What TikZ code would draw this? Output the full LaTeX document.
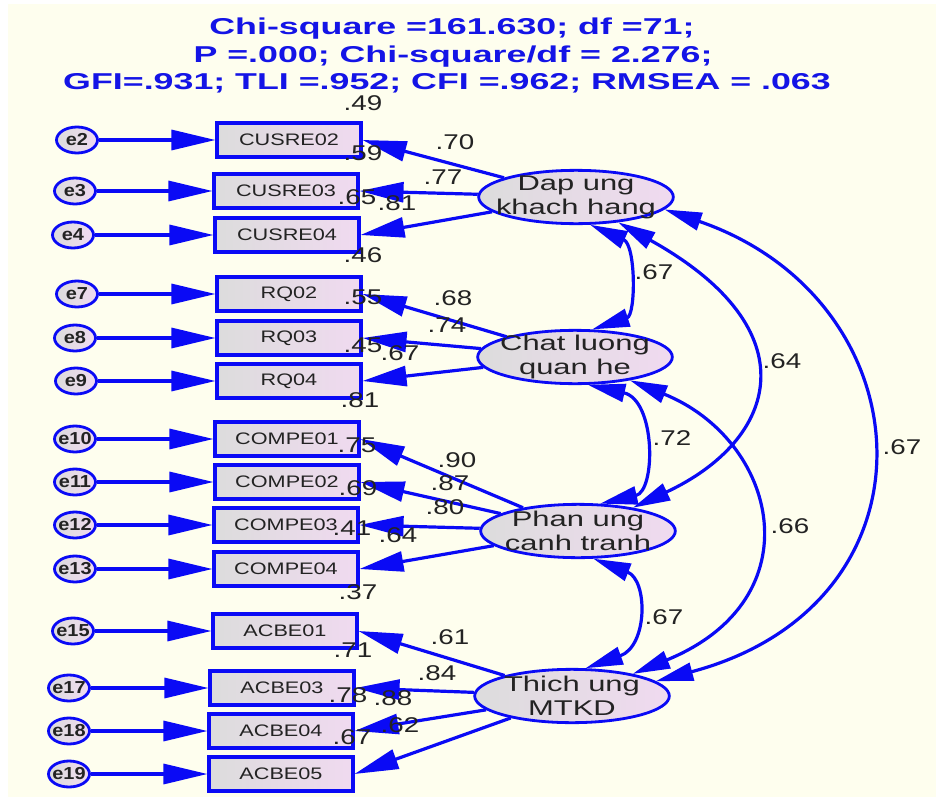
\documentclass[tikz,border=0pt]{standalone}
\usepackage{fontspec}
\setmainfont{Liberation Sans}
\newfontfamily\titlefont{Liberation Sans}[FakeStretch=1.56]
\newfontfamily\numfont{Liberation Sans}[FakeStretch=1.3]
\newfontfamily\latfont{Liberation Sans}[FakeStretch=1.45]
\newfontfamily\boxfont{Liberation Sans}[FakeStretch=1.3]
\newfontfamily\errfont{Liberation Sans}[FakeStretch=1.15]
\usetikzlibrary{arrows.meta,shapes.geometric}
\definecolor{amos}{RGB}{10,10,245}
\definecolor{cream}{RGB}{254,254,238}
\definecolor{lgray}{RGB}{220,220,220}
\definecolor{lpink}{RGB}{240,218,240}
\definecolor{txt}{RGB}{35,35,35}
\definecolor{ttl}{RGB}{20,20,230}
\tikzset{
  obs/.style={rectangle, draw=amos, line width=2.3pt, left color=lgray, right color=lpink,
    minimum width=108pt, minimum height=25.5pt, inner sep=0pt,
    font=\boxfont\fontsize{12.5pt}{14pt}\selectfont, text=txt},
  err/.style={ellipse, draw=amos, line width=2.1pt, left color=lgray, right color=lpink,
    minimum width=30.75pt, minimum height=19.5pt, inner sep=0pt},
  errtext/.style={inner sep=0pt, font=\errfont\bfseries\fontsize{13pt}{14pt}\selectfont, text=txt},
  lat/.style={ellipse, draw=amos, line width=2.1pt, left color=lgray, right color=lpink,
    minimum width=146pt, minimum height=40pt, inner sep=0pt},
  lattext/.style={inner sep=0pt, align=center, font=\latfont\fontsize{16pt}{18pt}\selectfont, text=txt},
  num/.style={inner sep=0pt, font=\numfont\fontsize{16pt}{18pt}\selectfont, text=txt},
  ttltext/.style={inner sep=0pt, anchor=base, font=\titlefont\bfseries\fontsize{17.2pt}{20pt}\selectfont, text=ttl},
  conn/.style={draw=amos, line width=2.4pt, -{Triangle[length=33pt,width=15pt]}},
  corr/.style={draw=amos, line width=2.4pt, {Triangle[length=28pt,width=13.5pt]}-{Triangle[length=28pt,width=13.5pt]}}
}
\begin{document}
\begin{tikzpicture}[x={(0.75pt,0)}, y={(0,-0.75pt)}]
\useasboundingbox (0,0) rectangle (936,803);
\fill[white] (0,0) rectangle (936,803);
\fill[cream] (8,4) rectangle (936,797);

% title
\node[ttltext] (t1) at (452,35) {Chi-square =161.630; df =71;};
\node[ttltext] (t2) at (453,62) {P =.000; Chi-square/df = 2.276;};
\node[ttltext] (t3) at (447,89) {GFI=.931; TLI =.952; CFI =.962; RMSEA = .063};

% observed
\node[obs] (cusre02) at (289,140) {CUSRE02};
\node[obs] (cusre03) at (286,191) {CUSRE03};
\node[obs] (cusre04) at (287,235) {CUSRE04};
\node[obs] (rq02) at (289,294) {RQ02};
\node[obs] (rq03) at (289,338) {RQ03};
\node[obs] (rq04) at (289,381) {RQ04};
\node[obs] (compe01) at (287,439) {COMPE01};
\node[obs] (compe02) at (287,482) {COMPE02};
\node[obs] (compe03) at (286,525) {COMPE03};
\node[obs] (compe04) at (286,569) {COMPE04};
\node[obs] (acbe01) at (285,631) {ACBE01};
\node[obs] (acbe03) at (282,688) {ACBE03};
\node[obs] (acbe04) at (281,731) {ACBE04};
\node[obs] (acbe05) at (281,774) {ACBE05};

% errors
\foreach \n/\x/\y/\b in {e2/77/140/cusre02, e3/75/191/cusre03, e4/73/235/cusre04,
  e7/77/294/rq02, e8/75/338/rq03, e9/76/381/rq04,
  e10/75/439/compe01, e11/75/482/compe02, e12/75/525/compe03, e13/75/569/compe04,
  e15/73/631/acbe01, e17/69/688/acbe03, e18/69/731/acbe04, e19/69/774/acbe05}{
  \node[err] (\n) at (\x,\y) {};
  \node[errtext] (\n t) at (\n) {\n};
  \draw[conn] (\n) -- (\b);
}

% latents
\node[lat] (dap) at (576,197) {};
\node[lattext] (dapt) at (dap) {Dap ung\\khach hang};
\node[lat] (chat) at (575,357) {};
\node[lattext] (chatt) at (chat) {Chat luong\\quan he};
\node[lat] (phan) at (578,531) {};
\node[lattext] (phant) at (phan) {Phan ung\\canh tranh};
\node[lat] (thich) at (572,696) {};
\node[lattext] (thicht) at (thich) {Thich ung\\MTKD};

% loadings
\draw[conn] (dap) -- (cusre02.east);
\draw[conn] (dap) -- (cusre03.east);
\draw[conn] (dap) -- (cusre04.east);
\draw[conn] (chat) -- (rq02.east);
\draw[conn] (chat) -- (rq03.east);
\draw[conn] (chat) -- (rq04.east);
\draw[conn] (phan) -- (compe01.east);
\draw[conn] (phan) -- (compe02.east);
\draw[conn] (phan) -- (compe03.east);
\draw[conn] (phan) -- (compe04.east);
\draw[conn] (thich) -- (acbe01.east);
\draw[conn] (thich) -- (acbe03.east);
\draw[conn] (thich) -- (acbe04.east);
\draw[conn] (thich) -- (acbe05.east);

% correlations
\draw[corr] (dap.-63) .. controls (636,245) and (636,315) .. (chat.58);
\draw[corr] (dap.-31) .. controls (812,330) and (778,440) .. (phan.23);
\draw[corr] (dap.-8) .. controls (928,300) and (947,604) .. (thich.10);
\draw[corr] (chat.-65) .. controls (656,400) and (656,491) .. (phan.51);
\draw[corr] (chat.-23) .. controls (778,440) and (816,599) .. (thich.20);
\draw[corr] (phan.-61) .. controls (648,580) and (648,646) .. (thich.64);

% correlation labels
\node[num] (c1) at (654,272) {.67};
\node[num] (c2) at (782,361) {.64};
\node[num] (c3) at (902,447) {.67};
\node[num] (c4) at (672,438) {.72};
\node[num] (c5) at (790,526) {.66};
\node[num] (c6) at (664,617) {.67};

% loading / R2 labels
\foreach \v/\x/\y [count=\i] in {.49/363/103, .70/455/142, .59/363/153, .77/443/177,
  .65/357/197, .81/397/203, .46/363/255, .55/363/297, .68/453/298, .74/447/325,
  .45/363/345, .67/400/353, .81/360/400, .75/357/445, .90/457/460, .87/450/483,
  .69/358/488, .80/445/507, .41/352/528, .64/398/535, .37/358/592, .61/450/637,
  .71/353/650, .84/437/673, .78/348/695, .88/393/698, .62/400/725, .67/352/737}{
  \node[num] (n\i) at (\x,\y) {\v};
}
\end{tikzpicture}
\end{document}
